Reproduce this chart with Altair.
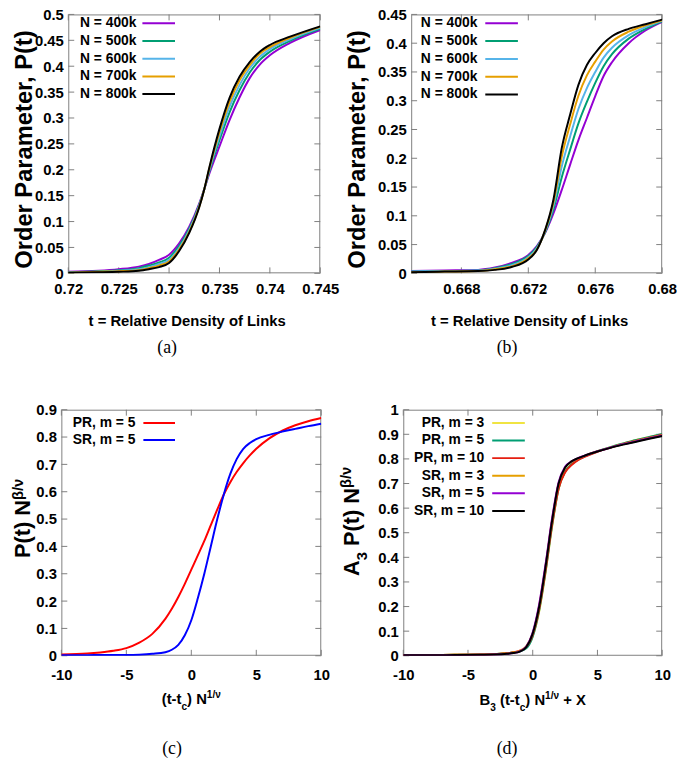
import altair as alt
import pandas as pd

LAB = "Liberation Sans"
SANS = "Liberation Sans"
SERIF = "Liberation Serif"
FRAME = "#7f7f7f"

# ---------------- data: panel (a) ----------------
t_a = [0.720, 0.723, 0.725, 0.727, 0.728, 0.729, 0.730, 0.731, 0.732, 0.733,
       0.7335, 0.734, 0.735, 0.736, 0.737, 0.738, 0.739, 0.740, 0.742, 0.745]
a_400k = [0.003, 0.005, 0.008, 0.013, 0.018, 0.026, 0.036, 0.058, 0.090, 0.135,
          0.163, 0.193, 0.245, 0.296, 0.340, 0.377, 0.403, 0.421, 0.445, 0.470]
a_500k = [0.002, 0.004, 0.006, 0.010, 0.015, 0.021, 0.030, 0.053, 0.086, 0.133,
          0.163, 0.197, 0.257, 0.311, 0.354, 0.388, 0.412, 0.428, 0.449, 0.472]
a_600k = [0.002, 0.003, 0.005, 0.008, 0.012, 0.018, 0.026, 0.049, 0.083, 0.131,
          0.163, 0.200, 0.265, 0.322, 0.364, 0.396, 0.418, 0.433, 0.452, 0.474]
a_700k = [0.001, 0.003, 0.004, 0.006, 0.010, 0.015, 0.023, 0.046, 0.080, 0.129,
          0.163, 0.203, 0.273, 0.331, 0.373, 0.402, 0.424, 0.437, 0.455, 0.476]
a_800k = [0.001, 0.002, 0.003, 0.005, 0.008, 0.012, 0.020, 0.043, 0.078, 0.128,
          0.163, 0.205, 0.279, 0.339, 0.380, 0.408, 0.428, 0.441, 0.457, 0.477]

# ---------------- data: panel (b) ----------------
t_b = [0.665, 0.667, 0.669, 0.670, 0.671, 0.672, 0.6725, 0.673, 0.6735, 0.674,
       0.6745, 0.675, 0.6755, 0.676, 0.6765, 0.677, 0.678, 0.679, 0.680]
b_400k = [0.004, 0.005, 0.006, 0.010, 0.018, 0.032, 0.047, 0.070, 0.104, 0.145,
          0.189, 0.232, 0.270, 0.308, 0.343, 0.367, 0.400, 0.422, 0.437]
b_500k = [0.003, 0.004, 0.005, 0.009, 0.016, 0.030, 0.045, 0.071, 0.111, 0.167,
          0.215, 0.261, 0.298, 0.331, 0.360, 0.381, 0.408, 0.425, 0.438]
b_600k = [0.003, 0.004, 0.005, 0.008, 0.014, 0.028, 0.043, 0.073, 0.117, 0.186,
          0.238, 0.286, 0.322, 0.350, 0.375, 0.392, 0.414, 0.428, 0.439]
b_700k = [0.002, 0.003, 0.004, 0.007, 0.012, 0.026, 0.041, 0.074, 0.123, 0.203,
          0.259, 0.309, 0.344, 0.368, 0.389, 0.403, 0.420, 0.431, 0.440]
b_800k = [0.002, 0.003, 0.004, 0.006, 0.011, 0.024, 0.040, 0.075, 0.128, 0.218,
          0.276, 0.328, 0.362, 0.383, 0.400, 0.412, 0.425, 0.433, 0.441]

# ---------------- data: panel (c) ----------------
x_c = [-10, -8, -7, -6, -5, -4, -3, -2, -1.5, -1, -0.5, 0, 0.5, 1, 1.5, 2, 2.5,
       3, 3.5, 4, 4.5, 5, 6, 7, 8, 9, 10]
c_pr5 = [0.005, 0.008, 0.012, 0.018, 0.028, 0.048, 0.080, 0.135, 0.172, 0.215,
         0.263, 0.315, 0.367, 0.420, 0.478, 0.535, 0.590, 0.635, 0.673, 0.705,
         0.733, 0.757, 0.795, 0.823, 0.843, 0.858, 0.870]
c_sr5 = [0.002, 0.002, 0.003, 0.003, 0.003, 0.004, 0.007, 0.013, 0.022, 0.040,
         0.075, 0.130, 0.210, 0.300, 0.400, 0.500, 0.590, 0.665, 0.720, 0.757,
         0.778, 0.792, 0.808, 0.820, 0.830, 0.840, 0.849]

# ---------------- data: panel (d) ----------------
x_d = [-10, -8, -6, -4, -3, -2, -1.5, -1, -0.5, 0, 0.5, 1, 1.5, 2, 2.5, 3, 3.5,
       4, 5, 6, 7, 8, 9, 10]
d_pr3 = [0.002, 0.003, 0.004, 0.005, 0.007, 0.010, 0.013, 0.019, 0.032, 0.080,
         0.180, 0.340, 0.525, 0.678, 0.748, 0.778, 0.797, 0.810, 0.831, 0.848,
         0.863, 0.877, 0.889, 0.900]
d_pr5 = [0.002, 0.003, 0.004, 0.005, 0.007, 0.010, 0.013, 0.018, 0.030, 0.078,
         0.185, 0.345, 0.530, 0.680, 0.748, 0.778, 0.797, 0.810, 0.831, 0.848,
         0.863, 0.877, 0.889, 0.901]
d_pr10 = [0.002, 0.003, 0.004, 0.005, 0.007, 0.010, 0.014, 0.021, 0.036, 0.085,
          0.190, 0.350, 0.535, 0.680, 0.745, 0.775, 0.795, 0.808, 0.829, 0.846,
          0.861, 0.874, 0.886, 0.898]
d_sr3 = [0.002, 0.003, 0.004, 0.005, 0.006, 0.009, 0.013, 0.020, 0.038, 0.092,
         0.205, 0.370, 0.555, 0.700, 0.765, 0.788, 0.802, 0.812, 0.831, 0.846,
         0.860, 0.873, 0.885, 0.896]
d_sr5 = [0.002, 0.002, 0.003, 0.004, 0.005, 0.008, 0.011, 0.018, 0.037, 0.095,
         0.210, 0.375, 0.560, 0.705, 0.768, 0.790, 0.803, 0.813, 0.831, 0.846,
         0.860, 0.872, 0.884, 0.895]
d_sr10 = [0.002, 0.002, 0.003, 0.004, 0.005, 0.008, 0.011, 0.017, 0.035, 0.090,
          0.200, 0.365, 0.550, 0.700, 0.765, 0.790, 0.803, 0.813, 0.830, 0.845,
          0.858, 0.870, 0.882, 0.893]

# ---------------- labels / ticks ----------------
names_ab = ["N = 400k", "N = 500k", "N = 600k", "N = 700k", "N = 800k"]
names_c = ["PR, m = 5", "SR, m = 5"]
names_d = ["PR, m = 3", "PR, m = 5", "PR, m = 10", "SR, m = 3", "SR, m = 5", "SR, m = 10"]

xt_a = [0.72, 0.725, 0.73, 0.735, 0.74, 0.745]
yt_a = [0, 0.05, 0.1, 0.15, 0.2, 0.25, 0.3, 0.35, 0.4, 0.45, 0.5]
xt_b = [0.668, 0.672, 0.676, 0.68]
yt_b = [0, 0.05, 0.1, 0.15, 0.2, 0.25, 0.3, 0.35, 0.4, 0.45]
xt_cd = [-10, -5, 0, 5, 10]
yt_c = [0, 0.1, 0.2, 0.3, 0.4, 0.5, 0.6, 0.7, 0.8, 0.9]
yt_d = [0, 0.1, 0.2, 0.3, 0.4, 0.5, 0.6, 0.7, 0.8, 0.9, 1]

# ---------------- styles ----------------
COL_AB = ["#9400d3", "#009e73", "#56b4e9", "#e69f00", "#000000"]
COL_C = ["#ff0000", "#0000ff"]
COL_D = ["#f0e442", "#009e73", "#e51e10", "#e69f00", "#9400d3", "#000000"]

CW = {' ': 278, '(': 333, ')': 333, '-': 333, '/': 278, '+': 584, '=': 584,
      '.': 278, ',': 278, 'A': 722, 'B': 722, 'N': 722, 'P': 667, 'X': 667,
      'O': 778, 'R': 722, 'S': 667, 'a': 556, 'c': 556, 'e': 556, 'm': 889,
      'r': 389, 'd': 611, 't': 333, 'β': 611, 'ν': 556}


def tw(s, fs):
    return sum(CW.get(ch, 556) for ch in s) / 1000.0 * fs


def one(s):
    return alt.Chart(pd.DataFrame({"s": [s]}))


def rich(segs, x0, y0, fs, font, vertical=False, sup_shift=0.43):
    """segments of (text, kind) with kind n / sub / sup, centred on x0 (or y0)."""
    sizes = {"n": fs, "sup": fs * 0.68, "sub": fs * 0.68}
    shifts = {"n": 0, "sup": -fs * sup_shift, "sub": fs * 0.38}
    total = sum(tw(s, sizes[k]) for s, k in segs)
    off = -total / 2.0
    out = []
    for s, k in segs:
        f = sizes[k]
        lead = len(s) - len(s.lstrip(" "))
        core = s.strip(" ")
        start = off + tw(" " * lead, f)
        if vertical:
            mk = one(core).mark_text(align="left", baseline="alphabetic", angle=270,
                                     font=font, fontSize=f, fontWeight="bold", color="black")
            out.append(mk.encode(x=alt.value(x0 + shifts[k]), y=alt.value(y0 - start), text="s:N"))
        else:
            mk = one(core).mark_text(align="left", baseline="alphabetic",
                                     font=font, fontSize=f, fontWeight="bold", color="black")
            out.append(mk.encode(x=alt.value(x0 + start), y=alt.value(y0 + shifts[k]), text="s:N"))
        off += tw(s, f)
    return out


def panel(x, curves, colors, names, w, h, xdom, ydom, xt, yt, leg, ytitle, xtitle,
          caption, xlabpad, xo=0):
    """xo: blank margin (px) inside the unit, left of the plot frame."""
    xsc = alt.Scale(domain=xdom, nice=False, zero=False, range=[xo, xo + w])
    ysc = alt.Scale(domain=ydom, nice=False, zero=False)
    xax = alt.Axis(values=xt, labelExpr="'' + datum.value", title=None, ticks=False,
                   domain=False, grid=False, labelPadding=xlabpad, labelFlush=False,
                   labelOverlap=False)
    yax = alt.Axis(values=yt, labelExpr="'' + datum.value", title=None, ticks=False,
                   domain=False, grid=False, labelPadding=5, labelFlush=False,
                   labelOverlap=False, offset=-xo)
    layers = []
    layers.append(one("frame").mark_rect(fillOpacity=0, stroke=FRAME, strokeWidth=1).encode(
        x=alt.value(xo + 0.5), x2=alt.value(xo + w - 0.5), y=alt.value(0.5),
        y2=alt.value(h - 0.5)))
    dxt = pd.DataFrame({"v": xt})
    dyt = pd.DataFrame({"v": yt})
    for y1, y2 in [(h, h - 6), (0, 6)]:
        layers.append(alt.Chart(dxt).mark_rule(color=FRAME, strokeWidth=1).encode(
            x=alt.X("v:Q", scale=xsc, axis=xax), y=alt.value(y1), y2=alt.value(y2)))
    for x1, x2 in [(xo, xo + 6), (xo + w - 6, xo + w)]:
        layers.append(alt.Chart(dyt).mark_rule(color=FRAME, strokeWidth=1).encode(
            y=alt.Y("v:Q", scale=ysc, axis=yax), x=alt.value(x1), x2=alt.value(x2)))
    for ys, col in zip(curves, colors):
        df = pd.DataFrame({"x": x, "y": ys})
        layers.append(alt.Chart(df).mark_line(color=col, strokeWidth=2, interpolate="monotone",
                                              clip=True).encode(
            x=alt.X("x:Q", scale=xsc, axis=xax), y=alt.Y("y:Q", scale=ysc, axis=yax)))
    tx, lx1, lx2, ly0, ldy = leg
    for i, (nm, col) in enumerate(zip(names, colors)):
        yy = ly0 + i * ldy
        layers.append(one(nm).mark_text(align="right", baseline="middle", font=LAB,
                                        fontSize=14, fontWeight="bold", color="black").encode(
            x=alt.value(xo + tx), y=alt.value(yy), text="s:N"))
        layers.append(one(nm).mark_rule(color=col, strokeWidth=2).encode(
            x=alt.value(xo + lx1), x2=alt.value(xo + lx2), y=alt.value(yy)))
    layers += ytitle
    layers += xtitle
    ctext, cx, cy = caption
    layers.append(one(ctext).mark_text(align="center", baseline="alphabetic", font=SERIF,
                                       fontSize=18, color="black").encode(
        x=alt.value(xo + cx), y=alt.value(cy), text="s:N"))
    return alt.layer(*layers).properties(width=w + xo, height=h)


# ---------------- panels ----------------
WA, HA, XOA = 255, 262, 7
WB, HB = 254, 262
WC, HC = 263, 249
WD, HD = 262, 249

pa = panel(t_a, [a_400k, a_500k, a_600k, a_700k, a_800k], COL_AB, names_ab, WA, HA,
           [0.72, 0.745], [0, 0.5], xt_a, yt_a,
           (69, 75, 108, 9, 17.9),
           rich([("Order Parameter, P(t)", "n")], XOA - 37, 136, 24, SANS, True),
           rich([("t = Relative Density of Links", "n")], XOA + WA / 2, HA + 53, 15, LAB),
           ("(a)", 100, HA + 81), 8, xo=XOA)

pb = panel(t_b, [b_400k, b_500k, b_600k, b_700k, b_800k], COL_AB, names_ab, WB, HB,
           [0.665, 0.68], [0, 0.45], xt_b, yt_b,
           (67, 75, 108, 9, 18),
           rich([("Order Parameter, P(t)", "n")], -47, 136, 24, SANS, True),
           rich([("t = Relative Density of Links", "n")], WB / 2, HB + 53, 15, LAB),
           ("(b)", 97, HB + 81), 8)

pc = panel(x_c, [c_pr5, c_sr5], COL_C, names_c, WC, HC,
           [-10, 10], [0, 0.9], xt_cd, yt_c,
           (75, 83, 115, 13.4, 17.3),
           rich([("P(t) N", "n"), ("β/ν", "sup")], -32, 110, 22, SANS, True, 0.3),
           rich([("(t-t", "n"), ("c", "sub"), (") N", "n"), ("1/ν", "sup")],
                WC / 2, HC + 49, 15, LAB),
           ("(c)", 112, HC + 99), 12)

pd_ = panel(x_d, [d_pr3, d_pr5, d_pr10, d_sr3, d_sr5, d_sr10], COL_D, names_d, WD, HD,
            [-10, 10], [0, 1], xt_cd, yt_d,
            (82, 90, 123, 13.4, 17.8),
            rich([("A", "n"), ("3", "sub"), (" P(t) N", "n"), ("β/ν", "sup")],
                 -45, 113, 22, SANS, True, 0.35),
            rich([("B", "n"), ("3", "sub"), (" (t-t", "n"), ("c", "sub"), (") N", "n"),
                  ("1/ν", "sup"), (" + X", "n")], WD / 2, HD + 50, 15, LAB),
            ("(d)", 105, HD + 99), 12)

row1 = alt.hconcat(pa, pb, spacing=92, bounds="flush")
row2 = alt.hconcat(pc, pd_, spacing=83, bounds="flush")

chart = alt.vconcat(row1, row2, spacing=46, bounds="full").properties(
    padding={"left": 3, "top": -5, "right": 0, "bottom": 0}
).configure_view(
    stroke="transparent", strokeWidth=0
).configure_axis(
    labelFont=LAB, labelFontSize=15, labelFontWeight="bold", labelColor="black"
)

chart.save("out.html", embed_options={"renderer": "svg", "actions": False})
